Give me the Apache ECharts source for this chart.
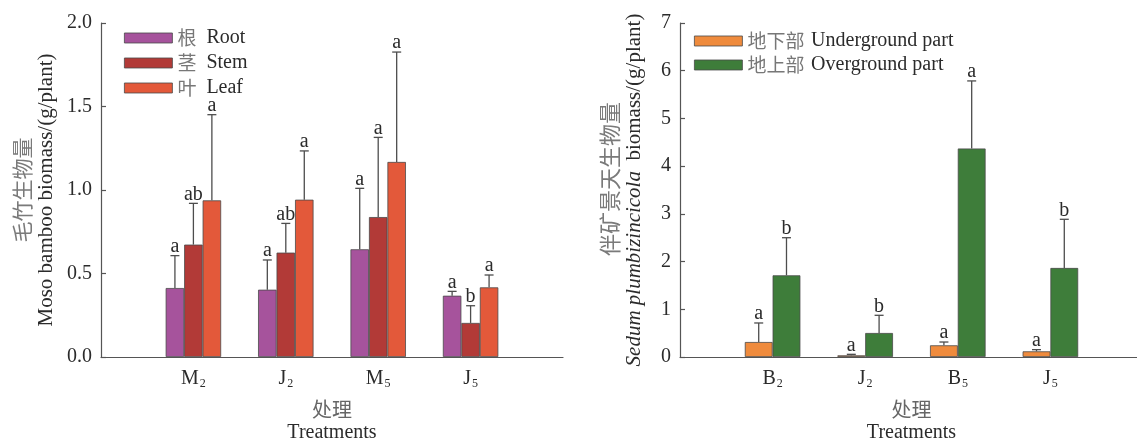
<!DOCTYPE html>
<html>
<head>
<meta charset="utf-8">
<script src="https://cdn.jsdelivr.net/npm/echarts@6/dist/echarts.min.js"></script>
<style>
html,body{margin:0;padding:0;background:#fff;}
#chart{width:1137px;height:443px;}
</style>
</head>
<body>
<div id="chart"></div>
<script>
// ---- Left panel: Moso bamboo ----
const leftCategories = ['M2', 'J2', 'M5', 'J5'];
const leftSeriesNames = ['Root', 'Stem', 'Leaf'];
const leftSeriesNamesCn = ['根', '茎', '叶'];
const rootMean = [0.413, 0.403, 0.645, 0.367];
const rootTop  = [0.607, 0.581, 1.010, 0.393];
const rootSig  = ['a', 'a', 'a', 'a'];
const stemMean = [0.673, 0.625, 0.838, 0.204];
const stemTop  = [0.920, 0.800, 1.315, 0.307];
const stemSig  = ['ab', 'ab', 'a', 'b'];
const leafMean = [0.938, 0.942, 1.168, 0.417];
const leafTop  = [1.451, 1.234, 1.826, 0.491];
const leafSig  = ['a', 'a', 'a', 'a'];
const leftYTicks = [0, 0.5, 1.0, 1.5, 2.0];

// ---- Right panel: Sedum plumbizincicola ----
const rightCategories = ['B2', 'J2', 'B5', 'J5'];
const rightSeriesNames = ['Underground part', 'Overground part'];
const rightSeriesNamesCn = ['地下部', '地上部'];
const underMean = [0.314, 0.035, 0.245, 0.119];
const underTop  = [0.713, 0.056, 0.314, 0.154];
const underSig  = ['a', 'a', 'a', 'a'];
const overMean  = [1.712, 0.503, 4.370, 1.866];
const overTop   = [2.500, 0.874, 5.786, 2.886];
const overSig   = ['b', 'b', 'a', 'b'];
const rightYTicks = [0, 1, 2, 3, 4, 5, 6, 7];

const FONT = '"Liberation Serif", "Times New Roman", "Noto Sans CJK SC", serif';
const CNFONT = '"Noto Sans CJK SC", serif';
const FS = 20;
const AXIS_COLOR = '#555';
const TEXT_COLOR = '#2b2b2b';
const CN_COLOR = '#7a7a7a';

const leftColors = ['#a6539c', '#b23a37', '#e3593a'];
const rightColors = ['#ef8b3d', '#3e7d3a'];

const cnMap = {};
leftSeriesNames.forEach((n, i) => cnMap[n] = leftSeriesNamesCn[i]);
rightSeriesNames.forEach((n, i) => cnMap[n] = rightSeriesNamesCn[i]);

function catFormatter(cats) {
  return function (v) {
    if (Math.abs(v - Math.round(v)) > 1e-6) return '';
    const i = Math.round(v) - 1;
    if (i < 0 || i >= cats.length) return '';
    const s = cats[i];
    return '{m|' + s.slice(0, -1) + '}{sub|' + s.slice(-1) + '}';
  };
}

const catRich = {
  m: { fontFamily: FONT, fontSize: FS, color: TEXT_COLOR },
  sub: { fontFamily: FONT, fontSize: 12, color: TEXT_COLOR, padding: [10, 0, 0, 1] }
};

function makeBar(name, means, color, xi, yi, width) {
  return {
    type: 'bar', name: name, xAxisIndex: xi, yAxisIndex: yi,
    data: means.map((v, i) => [i + 1, v]),
    barWidth: width, barGap: '0%',
    itemStyle: { color: color, borderColor: '#4a4a4a', borderWidth: 0.8 },
    z: 2
  };
}

function makeErr(means, tops, sigs, k, n, ratio, xi, yi) {
  return {
    type: 'custom', xAxisIndex: xi, yAxisIndex: yi, z: 5, silent: true,
    data: means.map((v, i) => [i + 1, v, tops[i]]),
    encode: { x: 0, y: [1, 2] },
    renderItem: function (params, api) {
      const x = api.value(0), m = api.value(1), t = api.value(2);
      const band = api.size([1, 0])[0];
      const off = (k - (n - 1) / 2) * band * ratio;
      const p0 = api.coord([x, m]);
      const p1 = api.coord([x, t]);
      const cx = p0[0] + off;
      const st = { stroke: '#4d4d4d', lineWidth: 1.3 };
      return {
        type: 'group',
        children: [
          { type: 'line', shape: { x1: cx, y1: p0[1], x2: cx, y2: p1[1] }, style: st },
          { type: 'line', shape: { x1: cx - 4.5, y1: p1[1], x2: cx + 4.5, y2: p1[1] }, style: st },
          { type: 'text', style: { text: sigs[params.dataIndex], x: cx, y: p1[1] + 1,
              textAlign: 'center', textVerticalAlign: 'bottom',
              font: FS + 'px ' + FONT, fill: TEXT_COLOR } }
        ]
      };
    }
  };
}

function yAxisCommon(ticks, digits, name, nameGap, gi, cnSize) {
  return {
    type: 'value', gridIndex: gi,
    min: ticks[0], max: ticks[ticks.length - 1], interval: ticks[1] - ticks[0],
    axisLine: { show: true, lineStyle: { color: AXIS_COLOR, width: 1.2 } },
    axisTick: { show: true, inside: true, length: 5, lineStyle: { color: AXIS_COLOR, width: 1.2 } },
    splitLine: { show: false },
    axisLabel: { fontFamily: FONT, fontSize: FS, color: TEXT_COLOR, margin: 9,
      formatter: v => v.toFixed(digits) },
    name: name, nameLocation: 'middle', nameRotate: 90, nameGap: nameGap,
    nameTextStyle: {
      rich: {
        cn: { fontFamily: CNFONT, fontSize: cnSize, color: CN_COLOR, lineHeight: 24 },
        en: { fontFamily: FONT, fontSize: 21, color: TEXT_COLOR, lineHeight: 24 },
        it: { fontFamily: FONT, fontSize: 21, color: TEXT_COLOR, lineHeight: 24, fontStyle: 'italic' }
      }
    }
  };
}

function xAxisCommon(cats, gi) {
  return {
    type: 'value', gridIndex: gi, min: 0, max: 5, interval: 1,
    axisLine: { show: true, onZero: false, lineStyle: { color: AXIS_COLOR, width: 1.2 } },
    axisTick: { show: false },
    splitLine: { show: false },
    axisLabel: { margin: 11, formatter: catFormatter(cats), rich: catRich, showMinLabel: true, showMaxLabel: true },
    name: '{cn|处理}\n{en|Treatments}', nameLocation: 'middle', nameGap: 40,
    nameTextStyle: {
      rich: {
        cn: { fontFamily: CNFONT, fontSize: 20, color: '#666', lineHeight: 24 },
        en: { fontFamily: FONT, fontSize: FS, color: TEXT_COLOR, lineHeight: 24 }
      }
    }
  };
}

const legendRich = {
  cn: { fontFamily: CNFONT, fontSize: 19, color: '#777' },
  en: { fontFamily: FONT, fontSize: FS, color: TEXT_COLOR }
};

const option = {
  animation: false,
  backgroundColor: '#fff',
  grid: [
    { left: 101, top: 23, width: 462, bottom: 86, outerBoundsMode: 'none', containLabel: false },
    { left: 680, top: 23, width: 463, bottom: 86, outerBoundsMode: 'none', containLabel: false }
  ],
  xAxis: [xAxisCommon(leftCategories, 0), xAxisCommon(rightCategories, 1)],
  yAxis: [
    yAxisCommon(leftYTicks, 1, '{cn|毛竹生物量}\n{en|Moso bamboo biomass/(g/plant)}', 43, 0, 21),
    yAxisCommon(rightYTicks, 0, '{cn|\u3000伴矿景天生物量}\n{it|Sedum plumbizincicola}{en|  biomass/(g/plant)}', 34, 1, 22)
  ],
  legend: [
    {
      data: leftSeriesNames, orient: 'vertical', left: 119, top: 23, itemGap: 5,
      itemWidth: 48, itemHeight: 10, icon: 'rect',
      itemStyle: { borderColor: '#4a4a4a', borderWidth: 0.8 },
      formatter: n => '{cn|' + cnMap[n] + '}   {en|' + n + '}',
      textStyle: { rich: legendRich }
    },
    {
      data: rightSeriesNames, orient: 'vertical', left: 689, top: 26, itemGap: 4,
      itemWidth: 48, itemHeight: 10, icon: 'rect',
      itemStyle: { borderColor: '#4a4a4a', borderWidth: 0.8 },
      formatter: n => '{cn|' + cnMap[n] + '}  {en|' + n + '}',
      textStyle: { rich: legendRich }
    }
  ],
  series: [
    makeBar(leftSeriesNames[0], rootMean, leftColors[0], 0, 0, '20%'),
    makeBar(leftSeriesNames[1], stemMean, leftColors[1], 0, 0, '20%'),
    makeBar(leftSeriesNames[2], leafMean, leftColors[2], 0, 0, '20%'),
    makeErr(rootMean, rootTop, rootSig, 0, 3, 0.2, 0, 0),
    makeErr(stemMean, stemTop, stemSig, 1, 3, 0.2, 0, 0),
    makeErr(leafMean, leafTop, leafSig, 2, 3, 0.2, 0, 0),
    makeBar(rightSeriesNames[0], underMean, rightColors[0], 1, 1, '30%'),
    makeBar(rightSeriesNames[1], overMean, rightColors[1], 1, 1, '30%'),
    makeErr(underMean, underTop, underSig, 0, 2, 0.3, 1, 1),
    makeErr(overMean, overTop, overSig, 1, 2, 0.3, 1, 1)
  ]
};

const chart = echarts.init(document.getElementById('chart'), null, { renderer: 'canvas' });
chart.setOption(option);
</script>
</body>
</html>
